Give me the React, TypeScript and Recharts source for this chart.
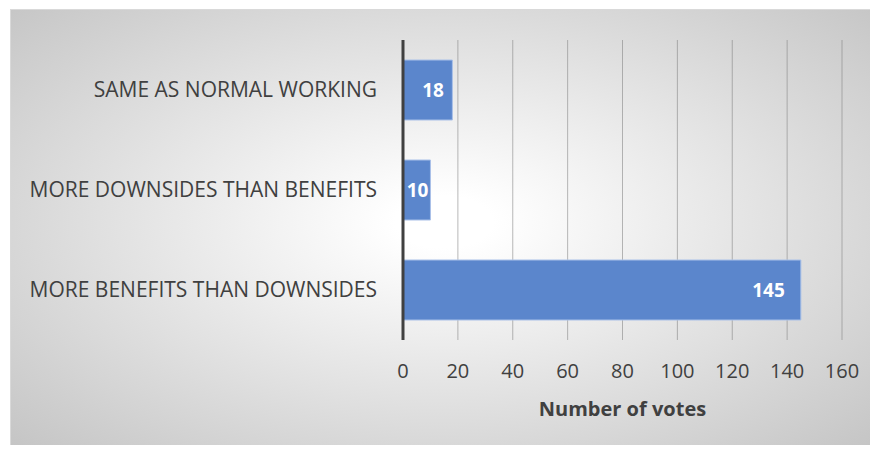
import { Bar, BarChart, CartesianGrid, Label, LabelList, XAxis, YAxis } from 'recharts';

const CATEGORIES = [
  'SAME AS NORMAL WORKING',
  'MORE DOWNSIDES THAN BENEFITS',
  'MORE BENEFITS THAN DOWNSIDES',
];
const VOTES = [18, 10, 145];
const X_TICKS = [0, 20, 40, 60, 80, 100, 120, 140, 160];

const FONT = '"Open Sans", sans-serif';
const TEXT = '#404040';

const data = CATEGORIES.map((name, i) => ({ name, votes: VOTES[i] }));

// Excel keeps the value label near the bar end, tighter when the bar is short
function ValueLabel(props: any) {
  const { x, y, width, height, value } = props;
  const gap = Math.min(16, Math.max(2, (width - 24) / 3));
  return (
    <text
      x={x + width - gap}
      y={y + height / 2}
      textAnchor="end"
      dominantBaseline="central"
      fill="#ffffff"
      fontFamily={FONT}
      fontWeight={700}
      fontSize={19}
    >
      {value}
    </text>
  );
}

export default function App() {
  return (
    <div style={{ position: 'relative', width: 878, height: 453, margin: -8, background: '#fff' }}>
      <div
        style={{
          position: 'absolute',
          left: 10,
          top: 9,
          width: 866,
          height: 442,
          border: '1px solid #d9d9d9',
          background:
            'radial-gradient(ellipse farthest-corner at 50% 48%, #ffffff 8%, #c4c4c4 100%)',
        }}
      />
      <div style={{ position: 'absolute', left: 0, top: 0 }}>
        <BarChart
          width={878}
          height={453}
          data={data}
          layout="vertical"
          margin={{ top: 40, right: 36, bottom: 83, left: 0 }}
          barCategoryGap="20%"
        >
          <CartesianGrid horizontal={false} stroke="#808080" strokeOpacity={0.55} />
          <XAxis
            type="number"
            dataKey="votes"
            domain={[0, 160]}
            ticks={X_TICKS}
            axisLine={false}
            tickLine={false}
            tickMargin={18}
            height={30}
            tick={{ fill: TEXT, fontSize: 20, fontFamily: FONT }}
          >
            <Label
              value="Number of votes"
              position="bottom"
              offset={32}
              style={{ fill: TEXT, fontSize: 20, fontWeight: 700, fontFamily: FONT }}
            />
          </XAxis>
          <YAxis
            type="category"
            dataKey="name"
            width={403}
            axisLine={{ stroke: '#404040', strokeWidth: 3 }}
            tickLine={false}
            tickMargin={20}
            tick={{ fill: TEXT, fontSize: 21, fontFamily: FONT }}
          />
          <Bar
            dataKey="votes"
            fill="#5b86cc"
            stroke="#a9c0e8"
            strokeWidth={1}
            isAnimationActive={false}
          >
            <LabelList dataKey="votes" content={ValueLabel} />
          </Bar>
        </BarChart>
      </div>
    </div>
  );
}
